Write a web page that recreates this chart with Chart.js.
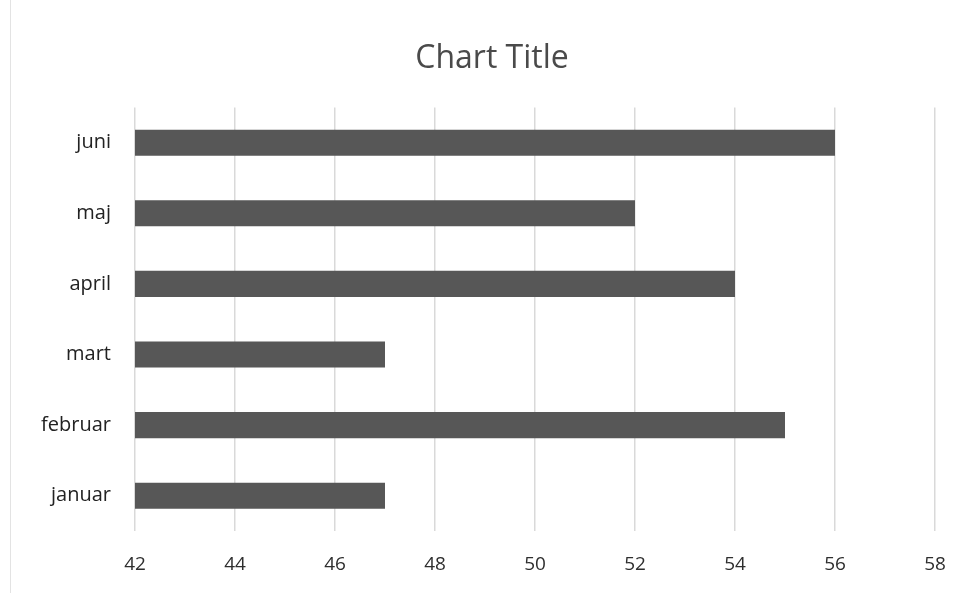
<!DOCTYPE html>
<html>
<head>
<meta charset="utf-8">
<script src="https://cdn.jsdelivr.net/npm/chart.js@4"></script>
<style>
  html, body { margin: 0; padding: 0; background: #fff; }
  .chart-container { position: relative; width: 968px; height: 593px; }
  .frame { position: absolute; left: 10px; top: 0; bottom: 0; border-left: 1px solid #e3e3e3; }
</style>
</head>
<body>
<div class="chart-container">
  <div class="frame"></div>
  <canvas id="myBarChart" width="968" height="593"></canvas>
</div>
<script>
const months = ['januar', 'februar', 'mart', 'april', 'maj', 'juni'];
const values = [47, 55, 47, 54, 52, 56];
const axisMin = 42;
const axisMax = 58;
const axisStep = 2;

// the title sits a bit right of the plot centre in the original
const shiftTitle = {
    id: 'shiftTitle',
    afterLayout(chart) {
        if (chart.titleBlock) {
            chart.titleBlock.left = 49;
        }
    }
};

const ctx = document.getElementById('myBarChart').getContext('2d');
const myBarChart = new Chart(ctx, {
    type: 'bar',
    data: {
        labels: months,
        datasets: [{
            data: values,
            backgroundColor: '#575757',
            barPercentage: 0.37,
            categoryPercentage: 1
        }]
    },
    options: {
        indexAxis: 'y',
        responsive: false,
        animation: false,
        layout: { padding: { left: 0, right: 33, top: 0, bottom: 8 } },
        plugins: {
            legend: { display: false },
            tooltip: { enabled: false },
            title: {
                display: true,
                text: 'Chart Title',
                color: '#4a4a4a',
                font: { family: 'Open Sans', size: 32, weight: 'normal' },
                padding: { top: 40, bottom: 29 }
            }
        },
        scales: {
            x: {
                min: axisMin,
                max: axisMax,
                ticks: {
                    stepSize: axisStep,
                    color: '#2e2e2e',
                    padding: 22,
                    font: { family: 'Open Sans', size: 19, weight: 500 }
                },
                grid: { color: '#d9d9d9', lineWidth: 1.5, drawTicks: false },
                border: { display: false },
                afterFit: function(scale) { scale.height = 54; }
            },
            y: {
                reverse: true,
                ticks: {
                    color: '#222',
                    padding: 16,
                    font: { family: 'Open Sans', size: 20, weight: 500 }
                },
                grid: { display: false },
                border: { display: false },
                afterFit: function(scale) { scale.width = 135; }
            }
        }
    },
    plugins: [shiftTitle]
});
</script>
</body>
</html>
